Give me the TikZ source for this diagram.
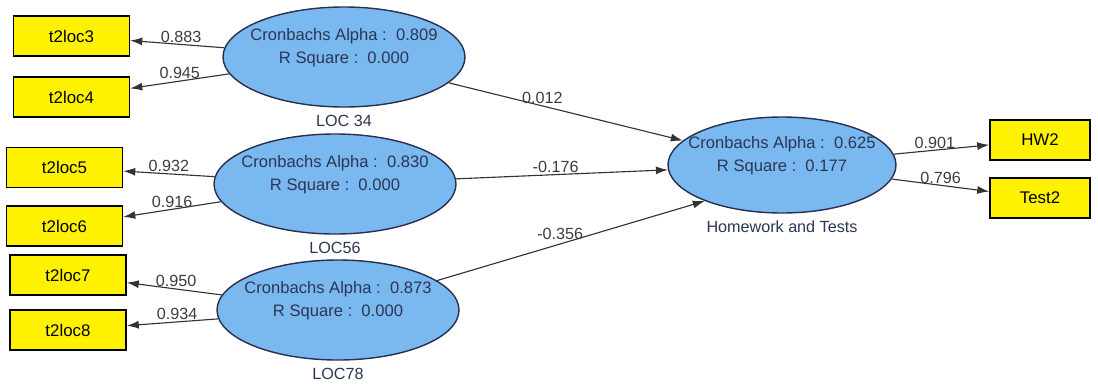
\documentclass[tikz,border=0pt]{standalone}
\usepackage{fontspec}
\setmainfont{Liberation Sans}
\usetikzlibrary{arrows.meta,positioning,shapes.geometric}

\definecolor{latentblue}{RGB}{122,184,240}
\definecolor{latentline}{RGB}{40,48,78}
\definecolor{latenttext}{RGB}{44,54,84}
\definecolor{coeftext}{RGB}{60,60,60}

\begin{document}
\begin{tikzpicture}[
  latent/.style={
    ellipse,
    draw=latentline,
    line width=1pt,
    fill=latentblue,
    align=center,
    minimum width=6.05cm,
    minimum height=2.5cm,
    inner xsep=-14pt,
    inner ysep=0pt,
    text=latenttext,
    font=\fontsize{11.8}{16}\selectfont
  },
  indicator/.style={
    draw,
    line width=1.1pt,
    fill=yellow,
    minimum width=2.9cm,
    minimum height=1cm,
    font=\fontsize{12}{14}\selectfont
  },
  arrow/.style={-{Latex[length=3mm,width=2mm]}, line width=0.8pt, draw=black!80},
  coef/.style={above, inner sep=1pt, text=coeftext, font=\fontsize{11.5}{14}\selectfont},
  every label/.style={text=latenttext, font=\fontsize{11.5}{14}\selectfont, inner sep=2pt},
  label distance=0.1cm
]
\useasboundingbox (0,0) rectangle (27.45,-9.575);

% latent variables
\node[latent, label=below:LOC 34] (loc34) at (8.6,-1.425)
  {Cronbachs Alpha :\ \ 0.809\\ R Square :\ \ 0.000\\ \mbox{}};
\node[latent, label=below:LOC56] (loc56) at (8.375,-4.6)
  {Cronbachs Alpha :\ \ 0.830\\ R Square :\ \ 0.000\\ \mbox{}};
\node[latent, label=below:LOC78] (loc78) at (8.45,-7.75)
  {Cronbachs Alpha :\ \ 0.873\\ R Square :\ \ 0.000\\ \mbox{}};
\node[latent, minimum width=5.7cm, minimum height=2.4cm,
  label=below:Homework and Tests] (hw) at (19.55,-4.125)
  {Cronbachs Alpha :\ \ 0.625\\ R Square :\ \ 0.177\\ \mbox{}};

% indicators
\node[indicator] (t2loc3) at (1.7875,-0.9) {t2loc3};
\node[indicator] (t2loc4) at (1.7875,-2.425) {t2loc4};
\node[indicator] (t2loc5) at (1.6125,-4.1875) {t2loc5};
\node[indicator] (t2loc6) at (1.6125,-5.65) {t2loc6};
\node[indicator] (t2loc7) at (1.7,-6.875) {t2loc7};
\node[indicator] (t2loc8) at (1.7,-8.25) {t2loc8};
\node[indicator, minimum width=2.5cm] (hw2) at (26,-3.5) {HW2};
\node[indicator, minimum width=2.5cm] (test2) at (26,-4.95) {Test2};

% outer loadings
\draw[arrow] (loc34) -- node[coef, pos=0.46] {0.883} (t2loc3);
\draw[arrow] (loc34) -- node[coef, pos=0.5] {0.945} (t2loc4);
\draw[arrow] (loc56) -- node[coef, pos=0.5] {0.932} (t2loc5);
\draw[arrow] (loc56) -- node[coef, pos=0.5] {0.916} (t2loc6);
\draw[arrow] (loc78) -- node[coef, pos=0.48] {0.950} (t2loc7);
\draw[arrow] (loc78) -- node[coef, pos=0.45] {0.934} (t2loc8);
\draw[arrow] (hw) -- node[coef, pos=0.43] {0.901} (hw2);
\draw[arrow] (hw) -- node[coef, pos=0.5] {0.796} (test2);

% path coefficients
\draw[arrow] (loc34) -- node[coef, pos=0.4] {0.012} (hw);
\draw[arrow] (loc56) -- node[coef, pos=0.47] {-0.176} (hw);
\draw[arrow] (loc78) -- node[coef, pos=0.46, inner sep=3pt] {-0.356} (hw.205);
\end{tikzpicture}
\end{document}
